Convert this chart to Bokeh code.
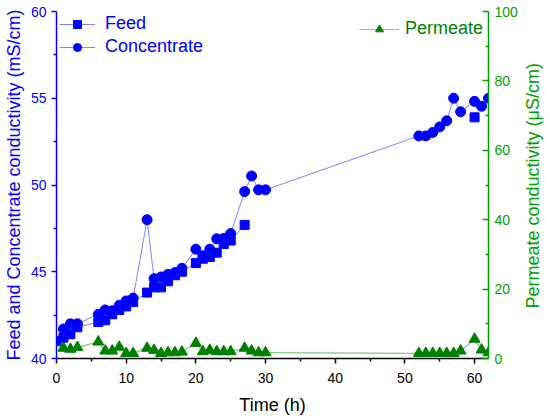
import math
from bokeh.plotting import figure
from bokeh.models import Range1d, LinearAxis, FixedTicker, Legend, LegendItem
from bokeh.embed import file_html
from bokeh.resources import INLINE

# ---------------- data ----------------
time_feed = [0, 1, 2, 3, 6, 7, 8, 9, 10, 11, 13, 14, 15, 16, 17, 18, 20, 21, 22, 23, 24, 25, 27, 60]
feed = [41.0, 41.2, 41.4, 41.8, 42.1, 42.2, 42.55, 42.8, 43.0, 43.25, 43.8, 44.1, 44.1, 44.45,
        44.8, 45.0, 45.5, 45.75, 45.85, 46.1, 46.6, 46.8, 47.7, 53.9]

time_conc = [1, 2, 3, 6, 7, 8, 9, 10, 11, 13, 14, 15, 16, 17, 18, 20, 21, 22, 23, 24, 25,
             27, 28, 29, 30, 52, 53, 54, 55, 56, 57, 58, 60, 61, 62]
conc = [41.7, 42.0, 42.0, 42.55, 42.8, 42.75, 43.07, 43.32, 43.48, 48.0, 44.6, 44.7, 44.85,
        44.95, 45.2, 46.3, 45.92, 46.3, 46.9, 46.92, 47.2, 49.62, 50.52, 49.72, 49.72,
        52.83, 52.83, 53.03, 53.35, 53.7, 55.0, 54.22, 54.82, 54.54, 55.0]

time_perm = [1, 2, 3, 6, 7, 8, 9, 10, 11, 13, 14, 15, 16, 17, 18, 20, 21, 22, 23, 24, 25,
             27, 28, 29, 30, 52, 53, 54, 55, 56, 57, 58, 60, 61, 62]
perm = [3.0, 2.7, 3.2, 4.8, 2.2, 2.2, 3.3, 1.5, 1.5, 3.0, 2.4, 1.5, 1.7, 1.7, 1.9, 4.4, 2.0,
        2.4, 2.0, 2.0, 2.0, 3.0, 2.2, 1.7, 1.7, 1.5, 1.5, 1.5, 1.5, 1.5, 1.5, 2.2, 5.6, 2.5, 1.7]

x_ticks = [0, 10, 20, 30, 40, 50, 60]
x_minor = [5, 15, 25, 35, 45, 55]
left_ticks = [40, 45, 50, 55, 60]
left_minor = [42.5, 47.5, 52.5, 57.5]
right_ticks = [0, 20, 40, 60, 80, 100]
right_minor = [10, 30, 50, 70, 90]

# ---------------- styles ----------------
FONT = "Liberation Sans"
BLUE = "#0000FF"
BLUE_LINE = "#8080FF"
GREEN = "#008000"
GREEN_AX = "#00A000"
GREEN_LINE = "#7FC87F"

p = figure(frame_width=432, frame_height=347, output_backend="svg", toolbar_location=None,
           x_range=Range1d(0, 62), y_range=Range1d(40, 60),
           min_border_left=46, min_border_right=10, min_border_top=11, min_border_bottom=10)
p.extra_y_ranges = {"perm": Range1d(0, 100)}
p.outline_line_color = None
p.xgrid.visible = False
p.ygrid.visible = False

# feed line (gap between the two groups)
fx = time_feed[:23] + [math.nan] + time_feed[23:]
fy = feed[:23] + [math.nan] + feed[23:]
feed_line = p.line(fx, fy, line_color=BLUE_LINE, line_width=1)
conc_line = p.line(time_conc, conc, line_color=BLUE_LINE, line_width=1)
perm_line = p.line(time_perm, perm, line_color=GREEN_LINE, line_width=1.2, y_range_name="perm")

feed_sq = p.scatter(time_feed, feed, marker="square", size=9, fill_color=BLUE, line_color=BLUE)
conc_c = p.scatter(time_conc, conc, marker="circle", size=10, fill_color=BLUE, line_color=BLUE)
perm_t = p.scatter(time_perm, perm, marker="triangle", size=11, fill_color=GREEN, line_color=GREEN,
                   y_range_name="perm")

# axes
xa = p.xaxis[0]
xa.ticker = FixedTicker(ticks=x_ticks, minor_ticks=x_minor)
xa.axis_label = "Time (h)"
xa.axis_line_color = "black"
xa.major_tick_line_color = "black"
xa.minor_tick_line_color = "black"
xa.major_label_text_color = "black"
xa.axis_label_text_color = "black"

ya = p.yaxis[0]
ya.ticker = FixedTicker(ticks=left_ticks, minor_ticks=left_minor)
ya.axis_label = "Feed and Concentrate conductivity (mS/cm)"
ya.axis_line_color = BLUE
ya.major_tick_line_color = BLUE
ya.minor_tick_line_color = BLUE
ya.major_label_text_color = BLUE
ya.axis_label_text_color = BLUE

NB = "\u00a0"
ra = LinearAxis(y_range_name="perm",
                axis_label=NB * 10 + "Permeate conductivity (\u03bcS/cm)")
ra.ticker = FixedTicker(ticks=right_ticks, minor_ticks=right_minor)
ra.axis_line_color = GREEN_AX
ra.major_tick_line_color = GREEN_AX
ra.minor_tick_line_color = GREEN_AX
ra.major_label_text_color = GREEN_AX
ra.axis_label_text_color = GREEN_AX
ra.axis_label_orientation = math.pi / 2
ra.axis_label_align = "start"
p.add_layout(ra, "right")

for ax in [xa, ya, ra]:
    ax.axis_line_width = 1.5
    ax.major_tick_line_width = 1.5
    ax.minor_tick_line_width = 1.5
    ax.major_label_text_font = FONT
    ax.major_label_text_font_size = "14px"
    ax.axis_label_text_font = FONT
    ax.axis_label_text_font_size = "18px"
    ax.axis_label_text_font_style = "normal"
    ax.major_label_standoff = 5
    ax.axis_label_standoff = 4

for ax in [xa, ya]:
    ax.major_tick_out = 5
    ax.major_tick_in = 0
    ax.minor_tick_out = 3
    ax.minor_tick_in = 0
xa.major_label_standoff = 9
xa.axis_label_standoff = 9
ra.major_tick_out = 0
ra.major_tick_in = 6
ra.minor_tick_out = 0
ra.minor_tick_in = 3
ra.major_label_standoff = 6
ra.axis_label_standoff = 12

# legends
leg1 = Legend(items=[LegendItem(label="Feed", renderers=[feed_line, feed_sq]),
                     LegendItem(label="Concentrate", renderers=[conc_line, conc_c])],
              location=(3, 301))
leg2 = Legend(items=[LegendItem(label="Permeate", renderers=[perm_line, perm_t])],
              location=(303, 319))
for lg, col in [(leg1, BLUE), (leg2, GREEN)]:
    lg.border_line_color = None
    lg.background_fill_alpha = 0
    lg.label_text_color = col
    lg.label_text_font = FONT
    lg.label_text_font_size = "18px"
    lg.glyph_height = 20
    lg.label_height = 20
    lg.spacing = 2
    lg.padding = 0
    lg.margin = 0
leg1.glyph_width = 36
leg1.label_standoff = 10
leg2.glyph_width = 40
leg2.label_standoff = 6
p.add_layout(leg1)
p.add_layout(leg2)

open("out.html", "w").write(file_html(p, INLINE))
